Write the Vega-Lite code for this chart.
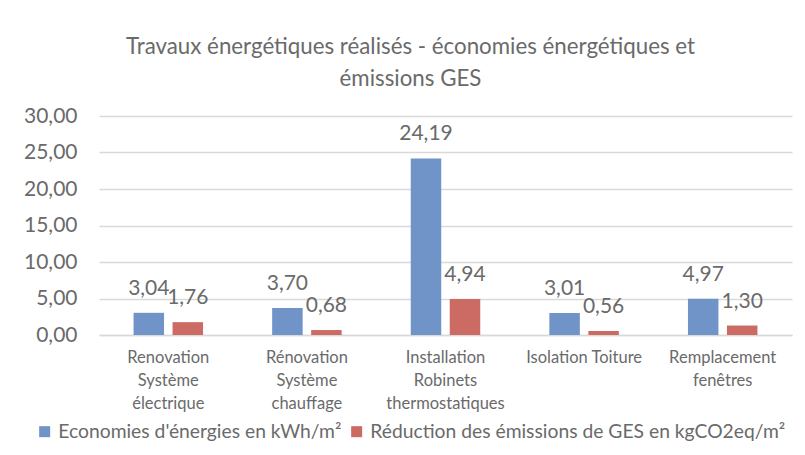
{
  "$schema": "https://vega.github.io/schema/vega-lite/v6.json",
  "width": 693,
  "height": 219,
  "autosize": "none",
  "padding": {"left": 99, "top": 116, "right": 13, "bottom": 120},
  "background": "white",
  "config": {
    "locale": {"number": {"decimal": ",", "thousands": " ", "grouping": [3], "currency": ["", " €"]}},
    "view": {"stroke": null},
    "font": "Lato",
    "text": {"font": "Lato"}
  },
  "title": {
    "text": ["Travaux énergétiques réalisés - économies énergétiques et", "émissions GES"],
    "fontSize": 22.3,
    "fontWeight": "normal",
    "font": "Lato",
    "color": "#6a6a6a",
    "lineHeight": 32,
    "anchor": "middle",
    "dx": -35,
    "offset": 15
  },
  "data": {
    "values": [
      {"categorie": "Renovation Système électrique", "serie": "Economies d'énergies en kWh/m²", "valeur": 3.04},
      {"categorie": "Renovation Système électrique", "serie": "Réduction des émissions de GES en kgCO2eq/m²", "valeur": 1.76},
      {"categorie": "Rénovation Système chauffage", "serie": "Economies d'énergies en kWh/m²", "valeur": 3.70},
      {"categorie": "Rénovation Système chauffage", "serie": "Réduction des émissions de GES en kgCO2eq/m²", "valeur": 0.68},
      {"categorie": "Installation Robinets thermostatiques", "serie": "Economies d'énergies en kWh/m²", "valeur": 24.19},
      {"categorie": "Installation Robinets thermostatiques", "serie": "Réduction des émissions de GES en kgCO2eq/m²", "valeur": 4.94},
      {"categorie": "Isolation Toiture", "serie": "Economies d'énergies en kWh/m²", "valeur": 3.01},
      {"categorie": "Isolation Toiture", "serie": "Réduction des émissions de GES en kgCO2eq/m²", "valeur": 0.56},
      {"categorie": "Remplacement fenêtres", "serie": "Economies d'énergies en kWh/m²", "valeur": 4.97},
      {"categorie": "Remplacement fenêtres", "serie": "Réduction des émissions de GES en kgCO2eq/m²", "valeur": 1.30}
    ]
  },
  "encoding": {
    "x": {
      "field": "categorie",
      "type": "nominal",
      "sort": null,
      "scale": {"paddingInner": 0, "paddingOuter": 0},
      "axis": {
        "title": null,
        "labelAngle": 0,
        "labelFontSize": 16.5,
        "labelLineHeight": 23,
        "labelColor": "#6a6a6a",
        "labelPadding": 14,
        "labelBaseline": "top",
        "labelExpr": "datum.label == 'Isolation Toiture' ? datum.label : split(datum.label, ' ')",
        "ticks": false,
        "domain": true,
        "domainColor": "#d9d9d9",
        "domainWidth": 1.5,
        "labelLimit": 300
      }
    },
    "xOffset": {
      "field": "serie",
      "type": "nominal",
      "sort": ["Economies d'énergies en kWh/m²", "Réduction des émissions de GES en kgCO2eq/m²"],
      "scale": {"paddingInner": 0.218, "paddingOuter": 0.886}
    },
    "y": {
      "field": "valeur",
      "type": "quantitative",
      "scale": {"domain": [0, 30]},
      "axis": {
        "title": null,
        "values": [0, 5, 10, 15, 20, 25, 30],
        "format": ".2f",
        "labelFontSize": 21,
        "labelColor": "#6a6a6a",
        "labelPadding": 22,
        "ticks": false,
        "domain": false,
        "gridColor": "#d9d9d9",
        "gridWidth": 1.5
      }
    }
  },
  "layer": [
    {
      "mark": {"type": "bar"},
      "encoding": {
        "color": {
          "field": "serie",
          "type": "nominal",
          "sort": ["Economies d'énergies en kWh/m²", "Réduction des émissions de GES en kgCO2eq/m²"],
          "scale": {"range": ["#7094c8", "#cc6b63"]},
          "legend": {
            "title": null,
            "orient": "none",
            "direction": "horizontal",
            "legendX": -64,
            "legendY": 306,
            "symbolType": "square",
            "symbolSize": 121,
            "symbolStrokeWidth": 0,
            "symbolOffset": 0,
            "labelFontSize": 19.3,
            "labelColor": "#6a6a6a",
            "labelOffset": 4,
            "columnPadding": 5,
            "labelLimit": 600
          }
        }
      }
    },
    {
      "mark": {"type": "text", "baseline": "alphabetic", "dy": -18, "fontSize": 21, "color": "#6a6a6a"},
      "encoding": {
        "text": {"field": "valeur", "type": "quantitative", "format": ".2f"}
      }
    }
  ]
}
